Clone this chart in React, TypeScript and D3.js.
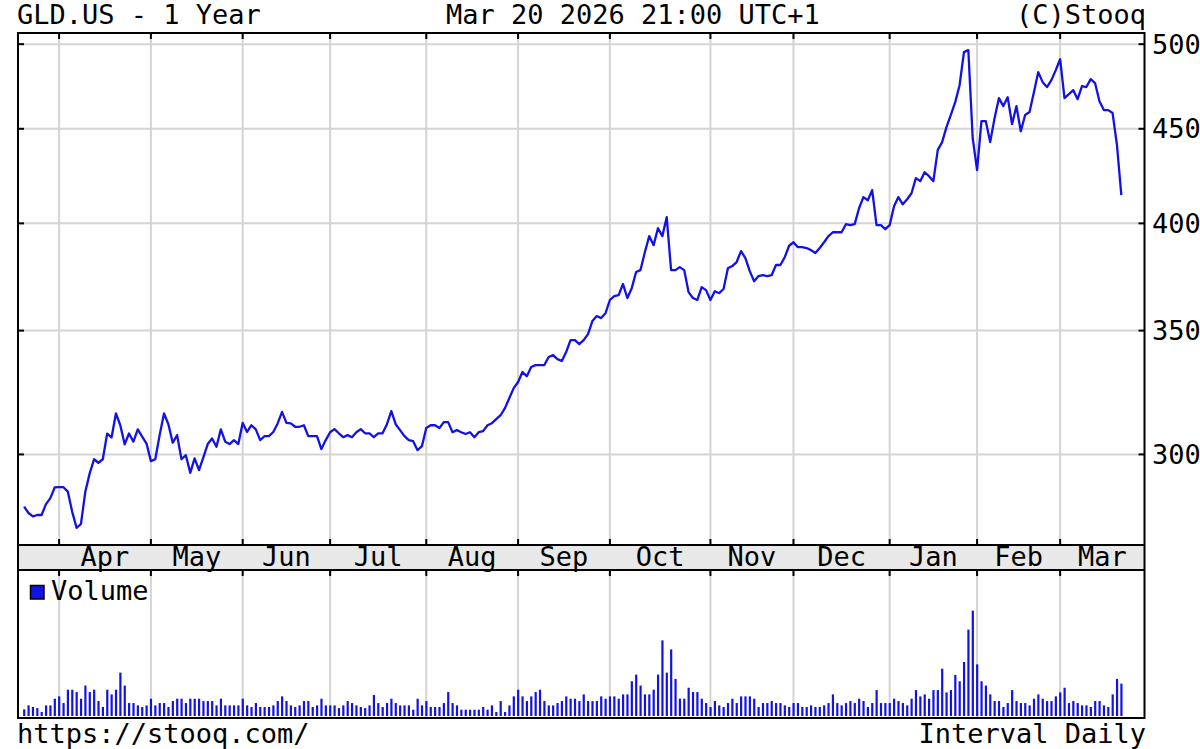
import React from "react";
import * as d3 from "d3";

// GLD.US daily closes, Mar 20 2025 .. Mar 20 2026 (trading days)
const closes: number[] = [
  281.1, 278.9, 277.7, 278.2, 278.2, 282.0, 284.1, 287.9, 288.0, 288.0,
  286.4, 279.3, 273.8, 275.1, 286.4, 293.0, 298.2, 296.9, 298.2, 307.9,
  306.4, 315.7, 311.1, 303.8, 307.9, 304.8, 309.5, 306.7, 304.1, 297.5,
  298.2, 307.3, 315.7, 311.5, 304.4, 307.3, 298.2, 299.7, 293.2, 298.5,
  294.2, 298.9, 303.9, 306.0, 302.9, 309.5, 304.8, 303.9, 305.4, 303.9,
  312.0, 308.5, 311.1, 309.5, 305.4, 306.9, 306.9, 308.5, 311.8, 316.3,
  312.0, 311.8, 310.5, 310.5, 311.1, 306.9, 306.9, 306.9, 302.0, 305.4,
  308.4, 309.6, 308.0, 306.5, 307.3, 306.5, 308.4, 309.6, 308.0, 308.0,
  306.5, 308.0, 308.0, 311.5, 316.6, 311.5, 309.2, 306.9, 305.4, 305.0,
  301.6, 303.1, 310.0, 311.1, 311.1, 310.0, 312.3, 312.3, 308.4, 309.2,
  308.4, 307.7, 308.4, 306.5, 308.4, 308.8, 311.1, 311.9, 313.5, 315.0,
  317.8, 321.8, 325.8, 328.3, 332.4, 330.7, 334.5, 335.3, 335.3, 335.3,
  338.7, 339.5, 337.8, 337.0, 340.8, 345.9, 345.9, 344.2, 345.9, 348.5,
  354.2, 356.4, 355.5, 357.7, 363.6, 365.4, 365.8, 370.9, 364.5, 369.0,
  376.5, 377.4, 385.9, 393.7, 389.3, 397.6, 393.7, 403.1, 377.4, 377.4,
  378.8, 377.4, 367.2, 364.5, 363.6, 369.5, 368.1, 363.6, 367.6, 366.7,
  368.6, 378.3, 379.3, 381.2, 386.4, 383.1, 376.9, 372.2, 374.6, 375.0,
  374.6, 375.0, 379.8, 379.8, 383.5, 389.0, 390.7, 388.3, 388.3, 387.9,
  386.9, 385.5, 387.9, 390.7, 393.7, 395.6, 395.6, 395.6, 399.6, 399.1,
  399.6, 407.6, 413.3, 411.7, 416.9, 399.1, 399.1, 397.1, 399.1, 408.6,
  413.3, 409.6, 412.2, 415.3, 423.2, 421.6, 426.3, 424.2, 421.6, 438.2,
  442.6, 450.9, 457.8, 465.2, 475.1, 495.1, 496.3, 444.8, 427.4, 454.3,
  454.3, 442.6, 456.0, 467.5, 462.9, 468.0, 452.6, 462.9, 448.6, 457.8,
  459.5, 471.0, 482.9, 476.9, 474.0, 478.1, 484.1, 490.7, 467.5, 469.8,
  472.2, 466.9, 474.6, 474.0, 478.7, 476.3, 465.7, 460.6, 460.6, 458.9,
  441.0, 414.3,
];

// Daily volume, millions of shares
const volumes: number[] = [
  3.7, 5.9, 5.0, 4.4, 2.2, 5.9, 5.9, 9.6, 10.9, 7.2,
  14.6, 14.6, 13.3, 9.6, 16.9, 13.3, 14.6, 8.3, 5.0, 14.6,
  12.0, 14.6, 24.1, 16.9, 7.2, 7.2, 5.9, 5.0, 5.9, 9.6,
  5.9, 7.2, 7.2, 5.0, 8.3, 9.6, 9.6, 7.2, 9.6, 9.6,
  9.6, 8.3, 8.3, 8.3, 5.9, 9.6, 5.9, 5.9, 5.9, 5.9,
  9.6, 5.9, 5.0, 7.2, 5.0, 5.0, 5.0, 5.9, 8.3, 10.9,
  8.3, 5.9, 5.0, 5.9, 8.3, 8.3, 5.0, 5.9, 9.6, 5.9,
  5.9, 5.9, 4.4, 5.9, 8.3, 7.2, 5.9, 5.0, 4.4, 5.9,
  11.7, 7.2, 5.0, 7.2, 9.6, 7.2, 5.9, 5.9, 5.9, 3.5,
  9.6, 5.9, 8.3, 5.0, 5.0, 5.0, 7.2, 13.3, 7.2, 5.9,
  3.5, 3.5, 3.5, 3.5, 3.5, 5.0, 3.5, 5.9, 2.2, 8.3,
  2.2, 5.9, 10.9, 14.6, 10.9, 8.3, 10.9, 13.3, 14.6, 8.3,
  5.9, 5.9, 7.2, 8.3, 10.9, 9.6, 9.6, 8.3, 12.0, 8.3,
  8.3, 8.3, 10.9, 9.6, 10.9, 10.9, 9.6, 12.0, 12.0, 19.3,
  23.0, 16.9, 12.0, 12.0, 14.6, 23.0, 42.0, 24.1, 37.0, 20.6,
  9.6, 9.6, 15.7, 13.3, 13.3, 9.6, 7.2, 5.0, 8.3, 5.9,
  5.0, 7.2, 9.6, 7.2, 10.9, 10.9, 10.9, 9.6, 5.0, 7.2,
  7.2, 8.3, 7.2, 7.2, 5.9, 5.0, 7.2, 7.2, 5.0, 5.0,
  5.9, 5.0, 5.0, 5.9, 7.2, 12.0, 7.2, 5.9, 7.2, 8.3,
  7.2, 9.6, 8.3, 5.0, 7.2, 14.4, 7.2, 7.2, 7.2, 9.6,
  8.3, 7.2, 5.9, 9.6, 14.4, 10.9, 12.0, 9.6, 14.4, 14.4,
  26.3, 13.1, 14.4, 22.8, 19.3, 30.0, 48.0, 58.5, 28.7, 19.3,
  16.9, 12.0, 8.3, 8.3, 5.0, 7.2, 14.4, 8.3, 7.2, 7.2,
  5.9, 9.6, 12.0, 9.6, 8.3, 8.3, 10.9, 13.1, 15.7, 7.2,
  8.3, 7.2, 5.9, 5.9, 5.0, 8.3, 8.3, 5.9, 5.0, 12.0,
  20.6, 18.0,
];

const monthLabels: string[] = ["Apr", "May", "Jun", "Jul", "Aug", "Sep", "Oct", "Nov", "Dec", "Jan", "Feb", "Mar"];
// index of first trading day of each month in the series
const monthStarts: number[] = [8, 29, 50, 70, 92, 113, 134, 157, 176, 198, 218, 237];
const priceTicks: number[] = [300, 350, 400, 450, 500];

const FONT = "DejaVu Sans Mono";
const BLUE = "#1212e6";
const GRID = "#d4d4d4";

export default function App() {
  const W = 1200;
  const H = 749;
  const L = 18;
  const R = 1144.5;
  const T = 33;
  const mainB = 545;
  const bandB = 570;
  const volB = 718;

  const x = d3.scaleLinear().domain([-1.4, 256.3]).range([L, R]);
  const y = d3.scaleLog().domain([268, 507]).range([mainB, T]);
  const yv = d3.scaleLinear().domain([0, 80]).range([716, 572]);

  const linePath = d3
    .line<number>()
    .x((_, i) => x(i))
    .y((d) => y(d))(closes) as string;

  const monthX = monthStarts.map((m) => x(m));
  const labelX = monthStarts.map((m, k) =>
    k < monthStarts.length - 1 ? (x(m) + x(monthStarts[k + 1])) / 2 : (x(m) + R) / 2
  );

  const fs = 27;

  return (
    <svg
      width={W}
      height={H}
      style={{ position: "absolute", left: 0, top: 0, background: "#fff", display: "block" }}
      fontFamily={FONT}
    >
      <rect x={0} y={0} width={W} height={H} fill="#fff" />

      {/* band */}
      <rect x={L} y={mainB} width={R - L} height={bandB - mainB} fill="#e8e8e8" />

      {/* horizontal grid */}
      {priceTicks.map((t) => (
        <line key={"hg" + t} x1={L} x2={R} y1={y(t)} y2={y(t)} stroke={GRID} strokeWidth={2} />
      ))}
      {/* vertical grid */}
      {monthX.map((mx, k) => (
        <g key={"vg" + k}>
          <line x1={mx} x2={mx} y1={T} y2={mainB} stroke={GRID} strokeWidth={2} />
          <line x1={mx} x2={mx} y1={bandB} y2={volB} stroke={GRID} strokeWidth={2} />
        </g>
      ))}

      {/* volume bars */}
      {volumes.map((v, i) => (
        <rect
          key={"v" + i}
          x={x(i) - 1}
          y={yv(v)}
          width={2.2}
          height={yv(0) - yv(v)}
          fill={BLUE}
        />
      ))}

      {/* price line */}
      <path d={linePath} fill="none" stroke={BLUE} strokeWidth={2.3} strokeLinejoin="round" />

      {/* frames */}
      <line x1={L} x2={R} y1={T} y2={T} stroke="#000" strokeWidth={2} />
      <line x1={L} x2={R} y1={mainB} y2={mainB} stroke="#000" strokeWidth={2} />
      <line x1={L} x2={R} y1={bandB} y2={bandB} stroke="#000" strokeWidth={2} />
      <line x1={L} x2={R} y1={volB} y2={volB} stroke="#000" strokeWidth={2} />
      <line x1={L} x2={L} y1={T - 1} y2={volB + 1} stroke="#000" strokeWidth={2} />
      <line x1={R} x2={R} y1={T - 1} y2={volB + 1} stroke="#000" strokeWidth={2} />

      {/* month ticks */}
      {monthX.map((mx, k) => (
        <g key={"mt" + k} stroke="#000" strokeWidth={2}>
          <line x1={mx} x2={mx} y1={T} y2={T + 6} />
          <line x1={mx} x2={mx} y1={mainB - 6} y2={mainB} />
          <line x1={mx} x2={mx} y1={bandB} y2={bandB + 6} />
        </g>
      ))}

      {/* price ticks */}
      {priceTicks.map((t) => (
        <g key={"pt" + t} stroke="#000" strokeWidth={2}>
          <line x1={R - 6} x2={R} y1={y(t)} y2={y(t)} />
          <line x1={L} x2={L + 6} y1={y(t)} y2={y(t)} />
        </g>
      ))}

      {/* price labels */}
      {priceTicks.map((t) => (
        <text key={"pl" + t} x={1152} y={y(t) + 9.5} fontSize={fs} fill="#000">
          {t}
        </text>
      ))}

      {/* month labels */}
      {monthLabels.map((m, k) => (
        <text key={"ml" + k} x={labelX[k]} y={566} fontSize={fs} textAnchor="middle" fill="#000">
          {m}
        </text>
      ))}

      {/* titles */}
      <text x={17} y={24} fontSize={fs} fill="#000">GLD.US - 1 Year</text>
      <text x={446} y={24} fontSize={fs} fill="#000">Mar 20 2026 21:00 UTC+1</text>
      <text x={1146} y={24} fontSize={fs} textAnchor="end" fill="#000">(C)Stooq</text>

      {/* legend */}
      <rect x={30.5} y={585.5} width={13.5} height={13.5} fill={BLUE} stroke="#000" strokeWidth={1.5} />
      <text x={51} y={600} fontSize={fs} fill="#000">Volume</text>

      {/* footer */}
      <text x={17} y={743} fontSize={fs} fill="#000">https://stooq.com/</text>
      <text x={1146} y={743} fontSize={fs} textAnchor="end" fill="#000">Interval Daily</text>
    </svg>
  );
}
